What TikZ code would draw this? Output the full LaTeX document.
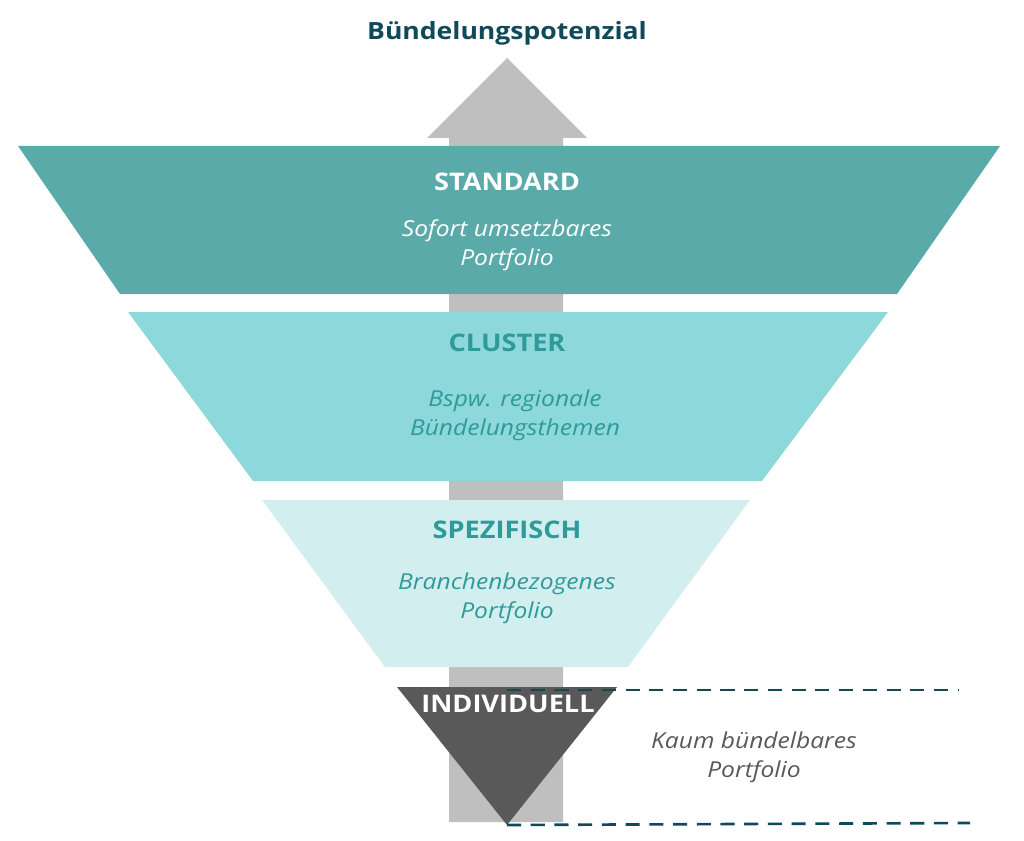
\documentclass[tikz,border=0pt]{standalone}
\usepackage{fontspec}
\setmainfont{Open Sans}[FakeStretch=1.12]
\definecolor{tealdark}{HTML}{0E4A5A}
\definecolor{tealA}{HTML}{5AAAAA}
\definecolor{tealB}{HTML}{8DD8DA}
\definecolor{tealC}{HTML}{D3EEEE}
\definecolor{tealtext}{HTML}{2E9A9A}
\definecolor{greyarrow}{HTML}{BFBFBF}
\definecolor{greydark}{HTML}{595959}
\tikzset{
    level/.style={font=\bfseries\fontsize{13.8}{16}\selectfont},
    note/.style={font=\itshape\fontsize{12.5}{16.5}\selectfont, align=center},
    guide/.style={tealdark, line width=1.5pt, dash pattern=on 8pt off 5.5pt}
}
\begin{document}
\begin{tikzpicture}[x=0.02cm,y=-0.02cm]
            \useasboundingbox (0,0) rectangle (1024,841);
            \coordinate (P1) at (507, 58);\coordinate (P2) at (427, 138);\coordinate (P3) at (587, 138);\coordinate (P4) at (449, 138);\coordinate (P5) at (563, 138);\coordinate (P6) at (449, 822);\coordinate (P7) at (563, 822);
            \coordinate (A1) at (18, 146);\coordinate (A2) at (1000, 146);\coordinate (A3) at (897, 294);\coordinate (A4) at (120, 294);
            \coordinate (B1) at (128, 312);\coordinate (B2) at (888, 312);\coordinate (B3) at (762, 481);\coordinate (B4) at (253, 481);
            \coordinate (C1) at (262, 500);\coordinate (C2) at (750, 500);\coordinate (C3) at (628, 667);\coordinate (C4) at (385, 667);
            \coordinate (D1) at (397, 687);\coordinate (D2) at (617, 687);\coordinate (D3) at (507, 825);
            \coordinate (E1) at (507, 690);\coordinate (E2) at (958, 690);\coordinate (E3) at (970, 823);

            % upward arrow behind the funnel
            \fill[greyarrow] (P1) -- (P3) -- (P5) -- (P7) -- (P6) -- (P4) -- (P2) -- cycle;

            \fill[tealA] (A1) -- (A2) -- (A3) -- (A4) -- cycle;
            \fill[tealB] (B1) -- (B2) -- (B3) -- (B4) -- cycle;
            \fill[tealC] (C1) -- (C2) -- (C3) -- (C4) -- cycle;
            \fill[greydark] (D1) -- (D2) -- (D3) -- cycle;

            \draw[guide] (E1) -- (E2);
            \draw[guide] (D3) -- (E3);

            \node[font=\bfseries\fontsize{13.5}{17}\selectfont, text=tealdark] (title) at (507, 33) {Bündelungspotenzial};

            \node[level, text=white] (standard) at (507, 182) {STANDARD};
            \node[note, text=white] (standardtxt) at (507, 245) {Sofort umsetzbares\\Portfolio};

            \node[level, text=tealtext] (cluster) at (507, 343) {CLUSTER};
            \node[note, text=tealtext] (clustertxt) at (515, 415) {Bspw. regionale\\Bündelungsthemen};

            \node[level, text=tealtext] (spezifisch) at (507, 530) {SPEZIFISCH};
            \node[note, text=tealtext] (spezifischtxt) at (507, 598) {Branchenbezogenes\\Portfolio};

            \node[level, text=white] (individuell) at (508, 704) {INDIVIDUELL};
            \node[note, text=greydark] (individuelltxt) at (754, 757) {Kaum bündelbares\\Portfolio};
        \end{tikzpicture}
\end{document}
